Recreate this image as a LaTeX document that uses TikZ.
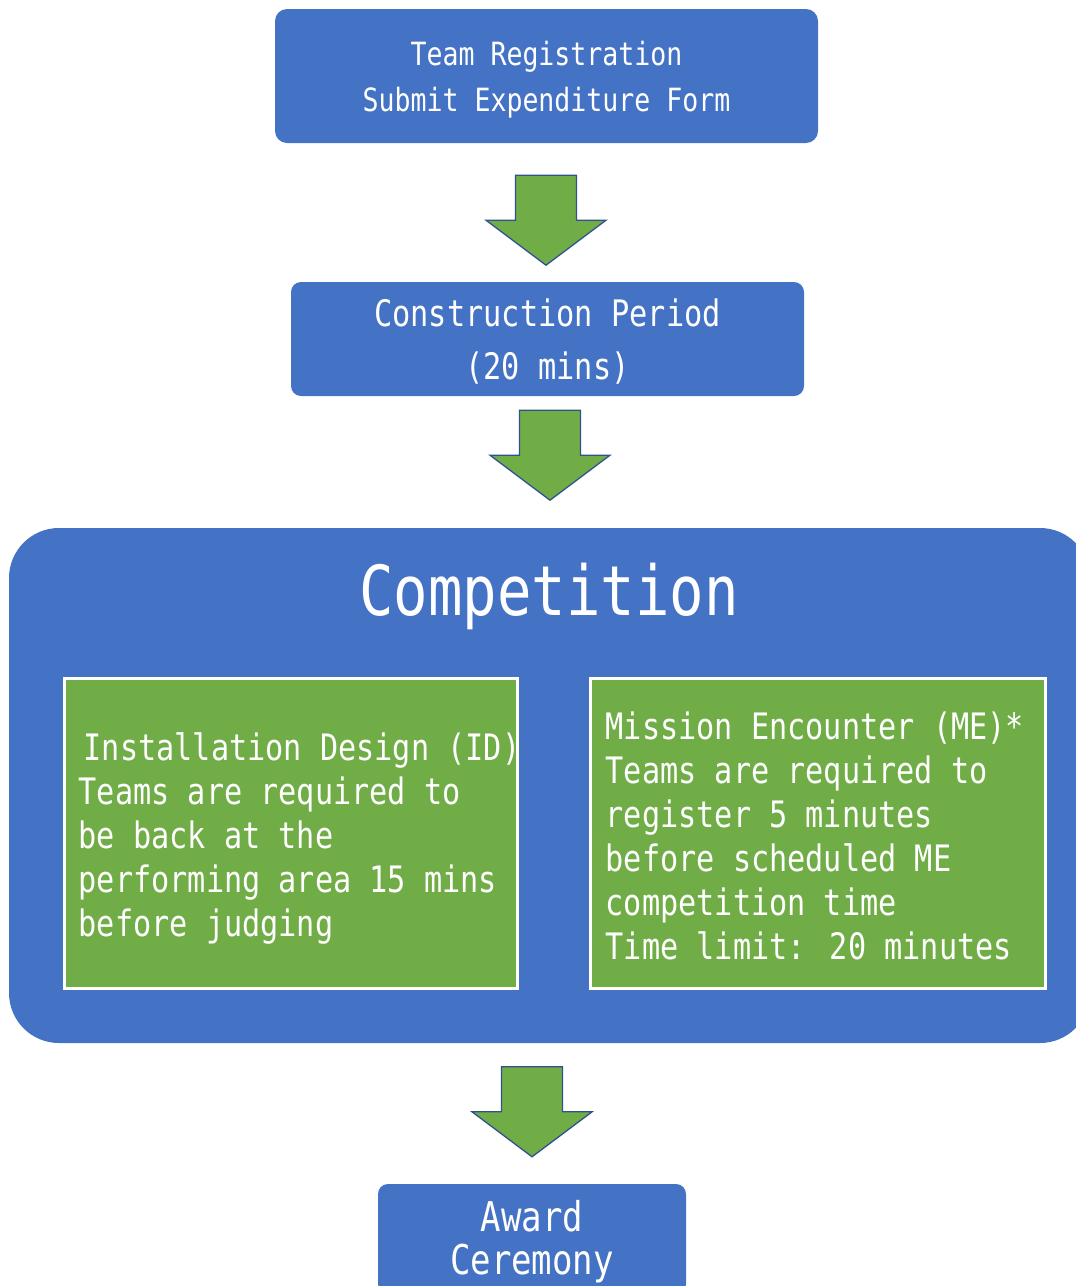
\documentclass[tikz,border=0pt]{standalone}
\usepackage{fontspec}
\newfontfamily\gothic[FakeStretch=0.83]{DejaVu Sans Mono}
\definecolor{boxblue}{HTML}{4472C4}
\definecolor{boxgreen}{HTML}{70AD47}
\definecolor{arrowblue}{HTML}{2F528F}
\begin{document}
\begin{tikzpicture}[x=1pt,y=-1pt,
  bluebox/.style={fill=boxblue, draw=none, rounded corners=12pt, inner sep=0pt},
  whitetext/.style={text=white, align=center, inner sep=0pt},
  greenbox/.style={fill=boxgreen, draw=white, line width=3pt, inner sep=0pt},
  greentext/.style={text=white, align=left, inner sep=0pt, anchor=west, font=\gothic\fontsize{36.4}{44}\selectfont},
  blockarrow/.style={fill=boxgreen, draw=arrowblue, line width=1.3pt, line join=miter}]
\useasboundingbox (0,0) rectangle (1076,1286);
\clip (0,0) rectangle (1076,1286);

% top box
\node[bluebox, minimum width=543pt, minimum height=134pt] (b1) at (546.5,76) {};
\node[whitetext, font=\gothic\fontsize{32}{46}\selectfont] (l1) at ([yshift=-4pt]b1.center)
  {Team Registration\\Submit Expenditure Form};

% construction box
\node[bluebox, rounded corners=10pt, minimum width=513pt, minimum height=114pt] (b2) at (547.5,339) {};
\node[whitetext, font=\gothic\fontsize{36.5}{53}\selectfont] (l2) at ([yshift=-3pt]b2.center)
  {Construction Period\\(20 mins)};

% competition container
\node[bluebox, rounded corners=50pt, minimum width=1081pt, minimum height=515pt] (comp) at (549.5,785.5) {};
\node[whitetext, font=\gothic\fontsize{69}{70}\selectfont] (title) at (549,596) {Competition};

% green boxes
\node[greenbox, minimum width=453pt, minimum height=310pt] (g1) at (290.5,833) {};
\node[greenbox, minimum width=455pt, minimum height=310pt] (g2) at (817.5,833) {};
\node[greentext] (t1) at ([xshift=16pt,yshift=-5pt]g1.west)
  {\hspace{5pt}Installation Design (ID)\\Teams are required to\\be back at the\\performing area 15 mins\\before judging};
\node[greentext] (t2) at ([xshift=17pt,yshift=-3pt]g2.west)
  {Mission Encounter (ME)*\\Teams are required to\\register 5 minutes\\before scheduled ME\\competition time\\Time limit: 20 minutes};

% award box
\node[bluebox, rounded corners=10pt, minimum width=308pt, minimum height=110pt] (b4) at (532,1239) {};
\node[whitetext, font=\gothic\fontsize{41}{43}\selectfont] (l4) at ([yshift=-3pt]b4.center)
  {Award\\Ceremony};

% block arrows
\path (b1.south) ++(-0.5,32) coordinate (a1);
\path (b2.south) ++(2.5,14) coordinate (a2);
\path (b4.north) ++(0,-117) coordinate (a3);
\foreach \c in {a1,a2,a3}{
  \draw[blockarrow] (\c) ++(-30.5,0) -- ++(61,0) -- ++(0,45) -- ++(29.5,0) -- ++(-60,45) -- ++(-60,-45) -- ++(29.5,0) -- cycle;
}
\end{tikzpicture}
\end{document}
